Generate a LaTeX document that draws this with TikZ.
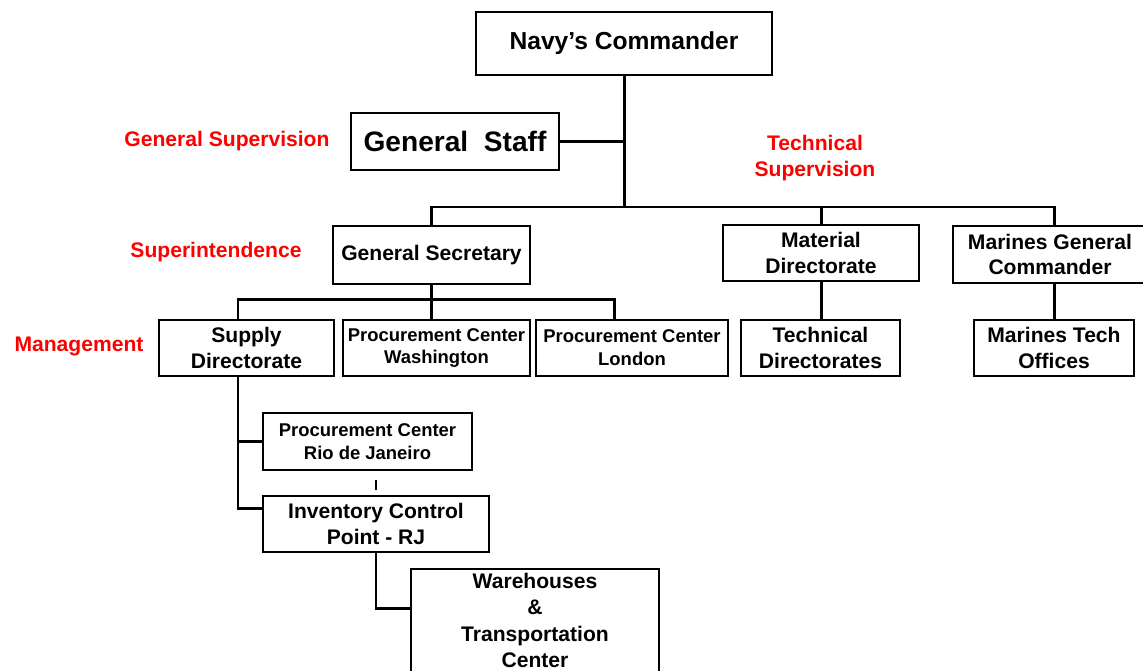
\documentclass[tikz,border=0pt]{standalone}
\usepackage{fontspec}
\setmainfont{Liberation Sans}

\begin{document}
\begin{tikzpicture}[x=0.02cm, y=-0.02cm,
    box/.style={draw, line width=.9pt, align=center, inner sep=0pt,
      font=\bfseries\fontsize{12}{14.7}\selectfont},
    smallbox/.style={box, font=\bfseries\fontsize{10.5}{13}\selectfont},
    link/.style={line width=1.7pt},
    tick/.style={line width=1.1pt},
    level/.style={text=red, align=center, inner sep=0pt,
      font=\bfseries\fontsize{12}{14.7}\selectfont}]
  \useasboundingbox (0,0) rectangle (1143,670);

  \node[box, minimum width=5.92cm, minimum height=1.26cm, font=\bfseries\fontsize{14}{16}\selectfont] (navy) at (624,43.5) {Navy’s Commander};
  \node[box, minimum width=4.16cm, minimum height=1.14cm, font=\bfseries\fontsize{16}{18}\selectfont] (staff) at (455,141.5) {General\ \ Staff};

  \node[box, minimum width=3.94cm, minimum height=1.16cm] (secretary) at (431.5,255) {General Secretary};
  \node[box, minimum width=3.92cm, minimum height=1.12cm] (material) at (821,253) {Material\\Directorate};
  \node[box, minimum width=3.88cm, minimum height=1.14cm] (marines) at (1050,254.5) {Marines General\\Commander};

  \node[box, minimum width=3.5cm, minimum height=1.12cm] (supply) at (246.5,348) {Supply\\Directorate};
  \node[smallbox, minimum width=3.74cm, minimum height=1.12cm] (washington) at (436.5,348) {Procurement Center\\Washington};
  \node[smallbox, minimum width=3.84cm, minimum height=1.12cm] (london) at (632,348) {Procurement Center\\London};
  \node[box, minimum width=3.18cm, minimum height=1.12cm] (techdir) at (820.5,348) {Technical\\Directorates};
  \node[box, minimum width=3.2cm, minimum height=1.12cm] (marinestech) at (1054,348) {Marines Tech\\Offices};

  \node[smallbox, minimum width=4.18cm, minimum height=1.14cm] (rio) at (367.5,441.5) {Procurement Center\\Rio de Janeiro};
  \node[box, minimum width=4.52cm, minimum height=1.12cm] (icp) at (376,524) {Inventory Control\\Point - RJ};
  \node[box, minimum width=4.96cm, minimum height=2.06cm, font=\bfseries\fontsize{12}{15}\selectfont] (warehouses) at (535,620.5) {Warehouses\\\&\\Transportation\\Center};

  \node[level] (gensup) at (227,141) {General Supervision};
  \node[level] (techsup) at (815,158) {Technical\\Supervision};
  \node[level] (superint) at (216,252) {Superintendence};
  \node[level] (manage) at (79,346) {Management};

  \coordinate (bus) at (624,207);
  \coordinate (subL) at (238,299);
  \coordinate (subR) at (614,299);
  \coordinate (icpin) at (263,508);
  \coordinate (whin) at (411,608);

  \draw[link] (navy.south) -- (navy.south |- bus);
  \draw[link] (staff.east) -- (staff.east -| navy.south);
  \draw[link] (secretary.north) -- (secretary.north |- bus) -- (bus -| marinestech.north) -- (marinestech.north |- marines.north);
  \draw[link] (material.north) -- (material.north |- bus);
  \draw[link] (material.south) -- (material.south |- techdir.north);
  \draw[link] (marinestech.north |- marines.south) -- (marinestech.north);

  \draw[link] (secretary.south) -- (secretary.south |- washington.north);
  \draw[link] (subL |- supply.north) -- (subL) -- (subR) -- (subR |- london.north);
  \draw[link] (subL |- supply.south) -- (subL |- icpin) -- (icpin);
  \draw[link] (subL |- rio.west) -- (rio.west);
  \draw[link] (icp.south) |- (whin);
  \draw[tick, shorten <=0.18cm, shorten >=0.1cm] (rio.south -| icp.north) -- (icp.north);
\end{tikzpicture}
\end{document}
